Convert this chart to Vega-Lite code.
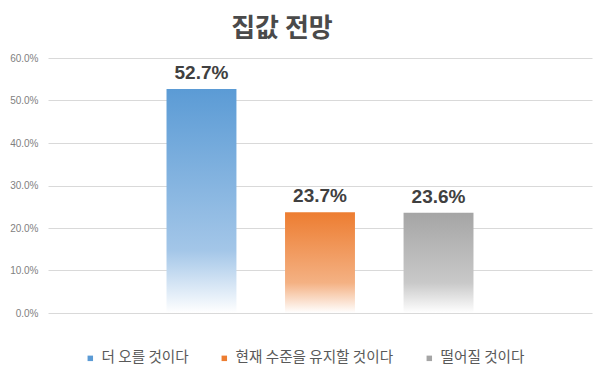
{
  "$schema": "https://vega.github.io/schema/vega-lite/v6.json",
  "autosize": "none",
  "width": 544,
  "height": 255,
  "padding": {"left": 48, "top": 58, "right": 8, "bottom": 70},
  "background": "white",
  "title": {"text": "집값 전망", "font": "Noto Sans CJK KR", "fontSize": 26, "fontWeight": "bold", "color": "#4a4a4a", "anchor": "middle", "offset": 11, "dx": -38},
  "config": {"view": {"stroke": null}, "font": "Noto Sans CJK KR"},
  "data": {"values": [
    {"category": "더 오를 것이다", "value": 0.527},
    {"category": "현재 수준을 유지할 것이다", "value": 0.237},
    {"category": "떨어질 것이다", "value": 0.236}
  ]},
  "encoding": {
    "x": {"field": "category", "type": "nominal", "sort": null, "axis": null, "scale": {"paddingInner": 0.41, "paddingOuter": 1.046}},
    "y": {"field": "value", "type": "quantitative", "scale": {"domain": [0, 0.6]},
      "axis": {"format": ".1%", "values": [0, 0.1, 0.2, 0.3, 0.4, 0.5, 0.6], "labelOverlap": false, "title": null, "domain": false, "ticks": false, "labelPadding": 10, "labelFont": "Liberation Sans", "labelFontSize": 10, "labelColor": "#7f7f7f", "gridColor": "#d9d9d9", "gridWidth": 1}}
  },
  "layer": [
    {
      "mark": {"type": "bar"},
      "encoding": {
        "fill": {
          "condition": [
            {"test": "datum.category === '더 오를 것이다'", "value": {"gradient": "linear", "x1": 0, "y1": 0, "x2": 0, "y2": 1, "stops": [{"offset": 0, "color": "#5B9BD5"}, {"offset": 0.72, "color": "#A3C6E8"}, {"offset": 1, "color": "#FFFFFF"}]}},
            {"test": "datum.category === '현재 수준을 유지할 것이다'", "value": {"gradient": "linear", "x1": 0, "y1": 0, "x2": 0, "y2": 1, "stops": [{"offset": 0, "color": "#ED7D31"}, {"offset": 0.7, "color": "#F4B183"}, {"offset": 1, "color": "#FFFFFF"}]}}
          ],
          "value": {"gradient": "linear", "x1": 0, "y1": 0, "x2": 0, "y2": 1, "stops": [{"offset": 0, "color": "#A5A5A5"}, {"offset": 0.7, "color": "#C9C9C9"}, {"offset": 1, "color": "#FFFFFF"}]}
        }
      }
    },
    {
      "mark": {"type": "square", "opacity": 0},
      "encoding": {
        "color": {"field": "category", "type": "nominal", "sort": null,
          "scale": {"domain": ["더 오를 것이다", "현재 수준을 유지할 것이다", "떨어질 것이다"], "range": ["#5B9BD5", "#ED7D31", "#A5A5A5"]},
          "legend": {"orient": "none", "legendX": 35, "legendY": 293, "direction": "horizontal", "title": null, "symbolType": "square", "symbolSize": 30, "symbolOpacity": 1, "symbolStrokeWidth": 0, "labelOffset": 4, "labelLimit": 400, "labelFont": "Noto Sans CJK KR", "labelFontSize": 14.6, "labelColor": "#595959", "columnPadding": 28}}
      }
    },
    {
      "mark": {"type": "text", "dy": -16, "font": "Liberation Sans", "fontSize": 19, "fontWeight": "bold", "color": "#404040"},
      "encoding": {"text": {"field": "value", "type": "quantitative", "format": ".1%"}}
    }
  ]
}
